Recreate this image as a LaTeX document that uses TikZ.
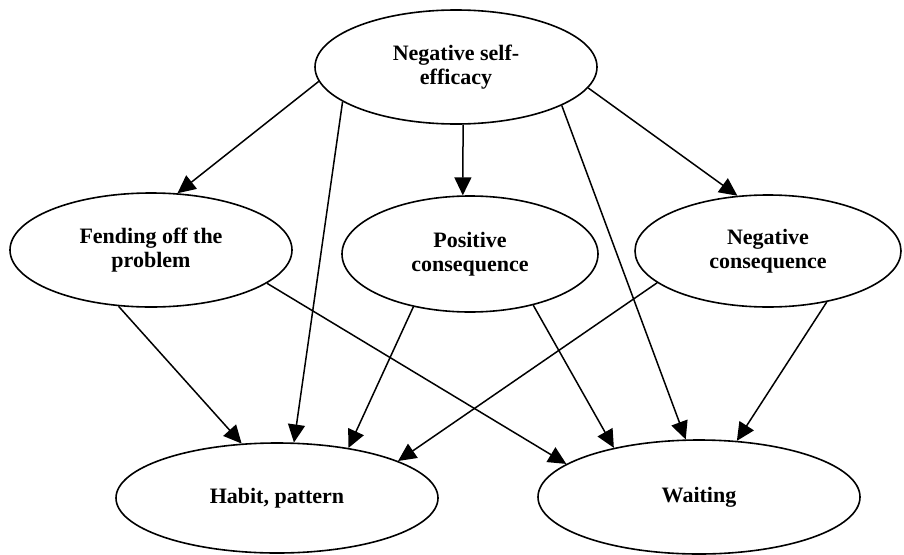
\documentclass[tikz,border=0pt]{standalone}
\usepackage{fontspec}
\setmainfont{Liberation Serif}
\usetikzlibrary{shapes.geometric,arrows.meta}
\begin{document}
\begin{tikzpicture}[x=1pt,y=-1pt,
  oval/.style={draw,ellipse,line width=1.6pt,inner sep=0pt,align=center,
    font=\fontsize{22}{23.5}\selectfont\bfseries},
  arr/.style={line width=1.5pt,-{Triangle[length=18pt,width=17pt]}}]
\useasboundingbox (0,0) rectangle (904,554);
\node[oval,minimum width=282pt,minimum height=114pt] (top) at (456,67) {Negative self-\\efficacy};
\node[oval,minimum width=282pt,minimum height=114pt] (fend) at (151,250) {Fending off the\\problem};
\node[oval,minimum width=256pt,minimum height=116pt] (pos) at (470,254) {Positive\\consequence};
\node[oval,minimum width=266pt,minimum height=112pt] (neg) at (768,251) {Negative\\consequence};
\node[oval,minimum width=322pt,minimum height=110pt] (habit) at (277,498) {Habit, pattern};
\node[oval,minimum width=322pt,minimum height=114pt] (wait) at (699,497) {Waiting};
\draw[arr] (top.186) -- (fend.65);
\draw[arr] (top.197.7) -- (habit.73.8);
\draw[arr] (top.277) -- (pos.97);
\draw[arr] (top.340) -- (wait.103.1);
\draw[arr] (top.351.5) -- (neg.119.9);
\draw[arr] (fend.240.6) -- (habit.123.9);
\draw[arr] (fend.344.3) -- (wait.166.1);
\draw[arr] (pos.223) -- (habit.35.8);
\draw[arr] (pos.321.3) -- (wait.150.6);
\draw[arr] (neg.196.5) -- (habit.17.2);
\draw[arr] (neg.319.8) -- (wait.56.3);
\end{tikzpicture}
\end{document}
